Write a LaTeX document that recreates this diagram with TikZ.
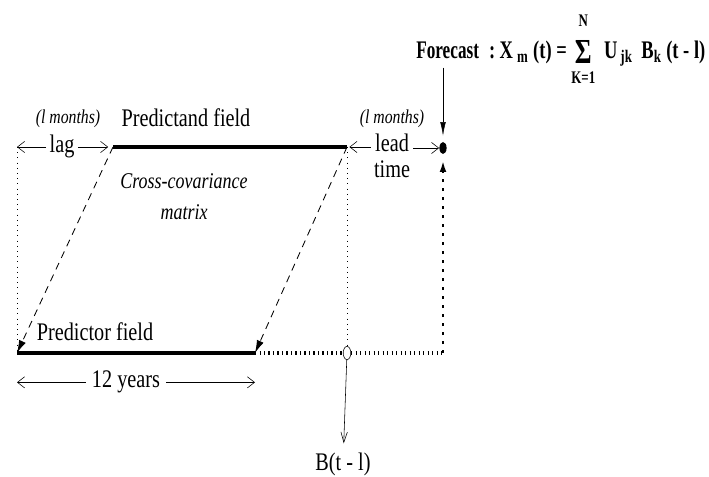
\documentclass[tikz,border=0pt]{standalone}
\usepackage{amsmath}
\usepackage{fontspec}
\setmainfont{Liberation Serif}[FakeStretch=0.8]
\newfontfamily\fcfont{Liberation Serif}[FakeStretch=0.68]
\newfontfamily\fmlfont{Liberation Serif}[FakeStretch=0.73]
\usetikzlibrary{arrows.meta,shapes.geometric}
\tikzset{
  field/.style={line width=2.6pt},
  guide/.style={line width=0.7pt,dash pattern=on 0.7pt off 3pt},
  xcov/.style={line width=0.6pt,dash pattern=on 1.8mm off 1.4mm,-{Latex[length=3.2mm,width=1.8mm]}},
  tline/.style={line width=3pt,dash pattern=on 0.8pt off 2.4pt},
  fline/.style={line width=2pt,dash pattern=on 2pt off 4.4pt,-{Latex[length=3.4mm,width=1.6mm]}},
  span/.style={thin,-{Straight Barb[length=1.8mm,width=2.8mm]}},
  fcarrow/.style={thin,-{Latex[length=3.4mm,width=1.4mm]}},
  barrow/.style={thin,-{Straight Barb[length=2.6mm,width=1.6mm]}},
  txt/.style={inner sep=0pt,font=\fontsize{18}{21}\selectfont},
  itxt/.style={inner sep=0pt,font=\fontsize{14}{16}\selectfont\itshape},
  xtxt/.style={inner sep=0pt,align=center,font=\fontsize{16}{22}\selectfont\itshape},
  fcast/.style={inner sep=0pt,font=\fontsize{18}{22}\selectfont\fcfont\bfseries},
  fml/.style={inner sep=0pt,font=\fontsize{18}{22}\selectfont\fmlfont\bfseries},
  fdot/.style={ellipse,fill,inner sep=0pt,minimum width=1.8mm,minimum height=3mm},
  bcirc/.style={ellipse,draw,thin,fill=white,inner sep=0pt,minimum width=1.9mm,minimum height=3.3mm}
}
\newcommand{\bigsig}{\mathop{\text{\raisebox{-3pt}{\fontsize{25}{25}\selectfont\fmlfont\bfseries Σ}}}}

\begin{document}
\begin{tikzpicture}[x=0.25mm,y=-0.25mm]
\useasboundingbox (0,0) rectangle (709,477);

% Ends of the two fields, corner of the forecast path
\coordinate (pdA) at (113,147);
\coordinate (pdB) at (347,147);
\coordinate (prA) at (17,353);
\coordinate (prB) at (255,353);
\coordinate (crn) at (443,353);

% Forecast point and B(t-l) point
\node[fdot] (fpt) at (443,148) {};
\node[bcirc] (bpt) at (347,353) {};

% Forecast formula
\node[fcast,anchor=base west] (fcst) at (416,59) {Forecast};
\node[fml,anchor=base west,xshift=2.4mm] (frm) at (fcst.base east)
  {:\,X\,$_{\text{m}}$\ (t) = $\bigsig\limits_{\text{\raisebox{-4pt}{K=1}}}^{\text{\raisebox{6pt}{N}}}$\, U$_{\text{\,jk}}$\ \,B$_{\text{k}}$\ (t - l)};

% Texts
\node[itxt,anchor=base] (lagm) at (68,124) {(l months)};
\node[txt,anchor=base] (pdlbl) at (186,127) {Predictand field};
\node[txt,anchor=base] (lag) at (62,153) {lag};
\node[itxt,anchor=base] (leadm) at (392,124) {(l months)};
\node[txt,anchor=base] (lead) at (392,152) {lead};
\node[txt,anchor=base] (time) at (392,178) {time};
\node[xtxt] (xcm) at (184,197) {Cross-covariance\\matrix};
\node[txt,anchor=base] (prlbl) at (95,341) {Predictor field};
\node[txt,anchor=base] (yrs) at (126,388) {12 years};
\node[txt,anchor=base] (blbl) at (343,470) {B(t - l)};

% Fields
\draw[field] (pdA) -- (pdB);
\draw[field] (prA) -- (prB);

% Guides
\draw[guide] (prA |- pdA) -- (prA);
\draw[guide] (pdB) -- (bpt);

% Cross-covariance links
\draw[xcov] (pdA) -- (prA);
\draw[xcov] (pdB) -- (prB);

% Lag, lead and length arrows
\draw[span,shorten <=0.8mm] (lag.west |- pdA) -- (prA |- pdA);
\draw[span,shorten <=0.8mm,shorten >=1.2mm] (lag.east |- pdA) -- (pdA);
\draw[span,shorten <=1mm,shorten >=0.6mm] (lead.west |- pdB) -- (pdB);
\draw[span,shorten <=1mm] (lead.east |- fpt) -- (fpt.west);
\draw[span,shorten <=1.5mm] (yrs.west) -- (yrs.west -| prA);
\draw[span,shorten <=1.5mm] (yrs.east) -- (yrs.east -| prB);

% Forecast path
\draw[tline] (prB) -- (bpt) -- (crn);
\draw[fline,shorten >=1mm] (crn) -- (fpt);
\draw[fcarrow,shorten <=2mm,shorten >=1.5mm] (fcst.south -| fpt) -- (fpt);
\draw[barrow,shorten >=2.2mm] (bpt) -- (blbl);

\end{tikzpicture}
\end{document}
